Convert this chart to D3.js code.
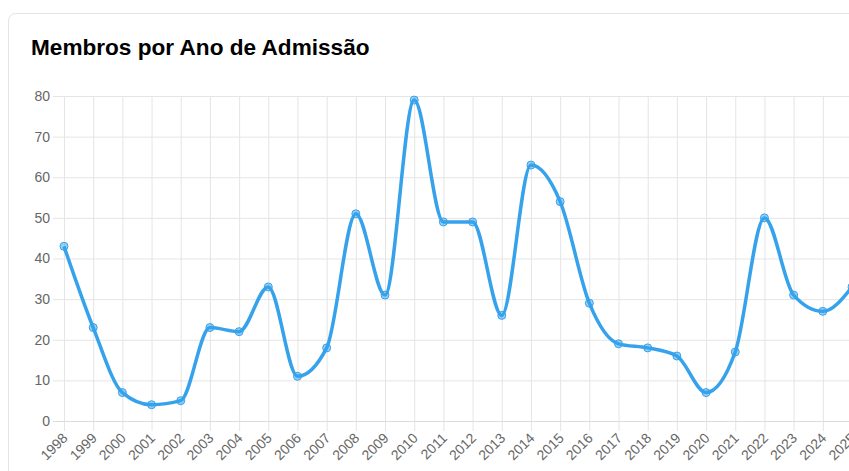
<!DOCTYPE html>
<html>
<head>
<meta charset="utf-8">
<script src="https://cdn.jsdelivr.net/npm/d3@7"></script>
<style>
  html, body { margin: 0; padding: 0; background: #fff; overflow: hidden; }
  body { width: 849px; height: 471px; font-family: "Liberation Sans", Arial, sans-serif; }
</style>
</head>
<body>
<div id="chart"></div>
<script>
// data
var years = ["1998","1999","2000","2001","2002","2003","2004","2005","2006","2007",
             "2008","2009","2010","2011","2012","2013","2014","2015","2016","2017",
             "2018","2019","2020","2021","2022","2023","2024","2025"];
var members = [43, 23, 7, 4, 5, 23, 22, 33, 11, 18,
               51, 31, 79, 49, 49, 26, 63, 54, 29, 19,
               18, 16, 7, 17, 50, 31, 27, 33];
var yTicks = [0, 10, 20, 30, 40, 50, 60, 70, 80];
var title = "Membros por Ano de Admissão";

var svgWidth = 849;
var svgHeight = 471;
var area = { left: 64, right: 852, top: 96, bottom: 421 };

var svg = d3.select("#chart")
  .append("svg")
  .attr("width", svgWidth)
  .attr("height", svgHeight);

// card
svg.append("rect")
  .attr("x", 8.5).attr("y", 13.5)
  .attr("width", 900).attr("height", 500)
  .attr("rx", 7)
  .attr("fill", "#fff")
  .attr("stroke", "#e4e4e4");

svg.append("text")
  .attr("x", 31)
  .attr("y", 55)
  .attr("font-size", "22.6px")
  .attr("font-weight", "bold")
  .attr("fill", "#000")
  .text(title);

var xScale = d3.scalePoint()
  .domain(years)
  .range([area.left, area.right]);

var yScale = d3.scaleLinear()
  .domain([0, 80])
  .range([area.bottom, area.top]);

// horizontal grid + y labels
var yAxis = d3.axisLeft(yScale)
  .tickValues(yTicks)
  .tickSize(area.right - area.left + 11)
  .tickPadding(3);

svg.append("g")
  .attr("transform", `translate(${area.right}, 0)`)
  .call(yAxis)
  .call(g => g.select(".domain").remove())
  .call(g => g.selectAll(".tick line").attr("stroke", "#e5e5e5"))
  .call(g => g.selectAll(".tick text")
    .attr("fill", "#666")
    .attr("font-size", "14px")
    .attr("font-family", "Liberation Sans, Arial, sans-serif"));

// vertical grid + x labels
var xAxis = d3.axisBottom(xScale)
  .tickSize(-(area.bottom - area.top))
  .tickSizeOuter(0);

var xg = svg.append("g")
  .attr("transform", `translate(0, ${area.bottom})`)
  .call(xAxis);
xg.select(".domain").remove();
xg.selectAll(".tick line")
  .attr("stroke", "#e5e5e5")
  .attr("y1", 10);
xg.selectAll(".tick text")
  .attr("fill", "#666")
  .attr("font-size", "14px")
  .attr("font-family", "Liberation Sans, Arial, sans-serif")
  .attr("text-anchor", "end")
  .attr("y", 0)
  .attr("dy", 0)
  .attr("transform", "translate(4, 18) rotate(-45)");

// baseline a bit darker
svg.append("line")
  .attr("x1", area.left - 11).attr("x2", area.right)
  .attr("y1", area.bottom + 0.5).attr("y2", area.bottom + 0.5)
  .attr("stroke", "#dcdcdc");

// the line
var line = d3.line()
  .x((d, i) => xScale(years[i]))
  .y(d => yScale(d))
  .curve(d3.curveMonotoneX);

svg.append("path")
  .datum(members)
  .attr("d", line)
  .attr("fill", "none")
  .attr("stroke", "#36a2eb")
  .attr("stroke-width", 3.5);

svg.selectAll("circle.pt")
  .data(members)
  .enter()
  .append("circle")
  .attr("class", "pt")
  .attr("cx", (d, i) => xScale(years[i]))
  .attr("cy", d => yScale(d))
  .attr("r", 4)
  .attr("fill", "rgba(54,162,235,0.5)")
  .attr("stroke", "#36a2eb")
  .attr("stroke-width", 1);
</script>
</body>
</html>
